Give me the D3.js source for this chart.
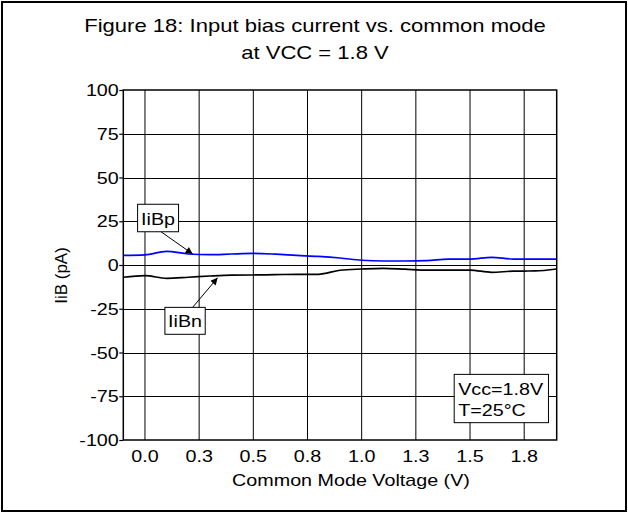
<!DOCTYPE html>
<html>
<head>
<meta charset="utf-8">
<script src="https://cdn.jsdelivr.net/npm/d3@7"></script>
<style>
  html, body { margin: 0; padding: 0; background: #fff; }
  svg { display: block; }
  text { font-family: "Liberation Sans", Arial, Helvetica, sans-serif; fill: #000; }
</style>
</head>
<body>
<svg id="chart" width="628" height="513"></svg>
<script>
// ---------------- data ----------------
const voltages = [-0.1, 0.0, 0.1, 0.2, 0.3, 0.4, 0.5, 0.6, 0.7, 0.8, 0.9, 1.0, 1.1, 1.2, 1.3, 1.4, 1.5, 1.6, 1.7, 1.8, 1.9];
const iibP = [5.5, 5.8, 7.8, 6.3, 5.9, 6.3, 6.6, 6.2, 5.5, 4.9, 4.0, 2.7, 2.3, 2.3, 2.5, 3.4, 3.4, 4.4, 3.4, 3.4, 3.4];
const iibN = [-7.0, -6.1, -7.6, -7.0, -6.3, -5.8, -5.7, -5.5, -5.3, -5.3, -3.0, -2.3, -1.9, -2.4, -2.9, -2.9, -2.9, -4.2, -3.5, -3.4, -2.3];
const xTickValues = [0, 0.25, 0.5, 0.75, 1.0, 1.25, 1.5, 1.75];
const xTickLabels = ["0.0", "0.3", "0.5", "0.8", "1.0", "1.3", "1.5", "1.8"];
const yTickValues = [-100, -75, -50, -25, 0, 25, 50, 75, 100];
const yTickLabels = ["-100", "-75", "-50", "-25", "0", "25", "50", "75", "100"];
const titleLines = ["Figure 18: Input bias current vs. common mode", "at VCC = 1.8 V"];
const xTitle = "Common Mode Voltage (V)";
const yTitle = "IiB (pA)";
const conditionLines = ["Vcc=1.8V", "T=25°C"];
const seriesNames = ["IiBp", "IiBn"];
const seriesColors = ["#0000ff", "#000000"];

// ---------------- layout ----------------
const svg = d3.select("#chart");
const plot = { left: 123.3, right: 556.7, top: 90, bottom: 440 };
const SX = 1.16; // horizontal text stretch of the original
const FS = 17;

const x = d3.scaleLinear().domain([-0.1, 1.9]).range([plot.left, plot.right]);
const y = d3.scaleLinear().domain([-100, 100]).range([plot.bottom, plot.top]);

function stext(parent, px, py, str, anchor, size) {
  return parent.append("text")
    .attr("transform", `translate(${px},${py}) scale(${SX},1)`)
    .attr("text-anchor", anchor || "start")
    .attr("font-size", size || FS)
    .text(str);
}

// outer frame
svg.append("rect").attr("x", 2).attr("y", 2).attr("width", 624).attr("height", 509)
  .attr("fill", "none").attr("stroke", "#000").attr("stroke-width", 2);

// title
titleLines.forEach((t, i) => stext(svg, 315, 32 + i * 27, t, "middle", 19));

// grid
const grid = svg.append("g");
grid.selectAll("line.v").data(xTickValues).join("line")
  .attr("x1", d => x(d)).attr("x2", d => x(d))
  .attr("y1", plot.top).attr("y2", plot.bottom)
  .attr("stroke", "#000").attr("stroke-width", 1);
grid.selectAll("line.h").data(yTickValues.filter(v => v > -100 && v < 100)).join("line")
  .attr("x1", plot.left).attr("x2", plot.right)
  .attr("y1", d => Math.round(y(d)) + 0.5).attr("y2", d => Math.round(y(d)) + 0.5)
  .attr("stroke", "#000").attr("stroke-width", 1);

// y axis ticks + labels
const yAxis = d3.axisLeft(y).tickValues(yTickValues).tickSize(4).tickPadding(2)
  .tickFormat((d, i) => yTickLabels[i]);
const gy = svg.append("g").attr("transform", `translate(${plot.left},0)`).call(yAxis);
gy.select(".domain").remove();
gy.selectAll(".tick line").attr("stroke", "#000").attr("stroke-width", 1.2);
gy.selectAll(".tick text").remove();
yTickValues.forEach((v, i) => stext(svg, plot.left - 4.5, y(v) + 6, yTickLabels[i], "end"));

// x axis labels
const xAxis = d3.axisBottom(x).tickValues(xTickValues).tickSize(0)
  .tickFormat((d, i) => xTickLabels[i]);
const gx = svg.append("g").attr("transform", `translate(0,${plot.bottom})`).call(xAxis);
gx.select(".domain").remove();
gx.selectAll(".tick text").remove();
xTickValues.forEach((v, i) => stext(svg, x(v), 462, xTickLabels[i], "middle"));

// plot frame
svg.append("rect").attr("x", plot.left).attr("y", plot.top)
  .attr("width", plot.right - plot.left).attr("height", plot.bottom - plot.top)
  .attr("fill", "none").attr("stroke", "#000").attr("stroke-width", 1.5);

// axis titles
stext(svg, (plot.left + plot.right) / 2 + 11, 486, xTitle, "middle");
svg.append("text").attr("transform", `translate(67,${y(-6)}) rotate(-90)`)
  .attr("text-anchor", "middle").attr("font-size", FS).text(yTitle);

// series
const line = d3.line().x((d, i) => x(voltages[i])).y(d => y(d)).curve(d3.curveMonotoneX);
[iibP, iibN].forEach((s, k) => {
  svg.append("path").datum(s).attr("d", line)
    .attr("fill", "none").attr("stroke", seriesColors[k]).attr("stroke-width", 1.7);
});

// arrow marker
svg.append("defs").append("marker").attr("id", "arr")
  .attr("viewBox", "0 0 10 10").attr("refX", 10).attr("refY", 5)
  .attr("markerWidth", 9).attr("markerHeight", 7).attr("markerUnits", "userSpaceOnUse")
  .attr("orient", "auto")
  .append("path").attr("d", "M0,0 L10,5 L0,10 z").attr("fill", "#000");

// series annotations (data coordinates)
const annotations = [
  { name: seriesNames[0], box: [-0.034, 0.155, 34.7, 19.0], from: [0.074, 19.0], to: [0.22, 6.3] },
  { name: seriesNames[1], box: [0.092, 0.278, -24.2, -39.6], from: [0.22, -24.2], to: [0.335, -7.3] }
];
annotations.forEach(a => {
  svg.append("line")
    .attr("x1", x(a.from[0])).attr("y1", y(a.from[1]))
    .attr("x2", x(a.to[0])).attr("y2", y(a.to[1]))
    .attr("stroke", "#000").attr("stroke-width", 1).attr("marker-end", "url(#arr)");
  const bx0 = x(a.box[0]), bx1 = x(a.box[1]), by0 = y(a.box[2]), by1 = y(a.box[3]);
  svg.append("rect").attr("x", bx0).attr("y", by0).attr("width", bx1 - bx0).attr("height", by1 - by0)
    .attr("fill", "#fff").attr("stroke", "#000").attr("stroke-width", 1);
  stext(svg, (bx0 + bx1) / 2, by1 - 7, a.name, "middle", 17);
});

// conditions box
const cb = [1.427, 1.862, -62.5, -90.1];
const cx0 = x(cb[0]), cx1 = x(cb[1]), cy0 = y(cb[2]), cy1 = y(cb[3]);
svg.append("rect").attr("x", cx0).attr("y", cy0).attr("width", cx1 - cx0).attr("height", cy1 - cy0)
  .attr("fill", "#fff").attr("stroke", "#000").attr("stroke-width", 1);
conditionLines.forEach((t, i) => stext(svg, cx0 + 4, cy0 + 21 + i * 21, t, "start", 17));
</script>
</body>
</html>
